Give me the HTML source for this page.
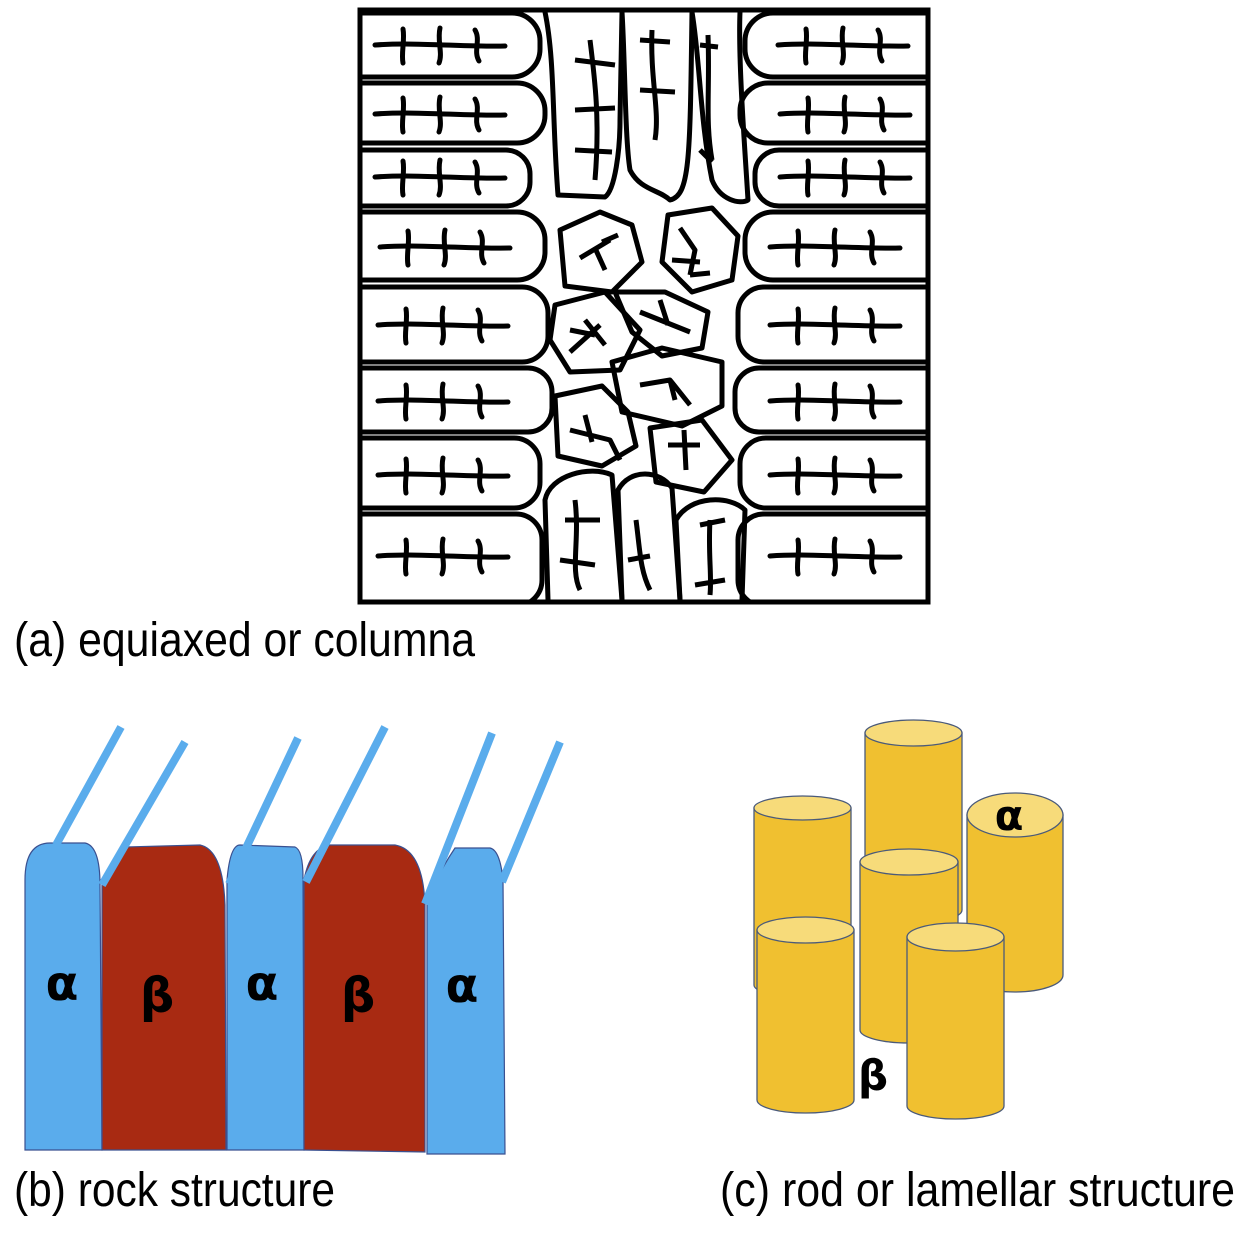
<!DOCTYPE html>
<html><head><meta charset="utf-8"><style>
html,body{margin:0;padding:0;background:#fff;}
svg{display:block;}
</style></head><body>
<svg width="1248" height="1242" viewBox="0 0 1248 1242" xmlns="http://www.w3.org/2000/svg">
<defs>
<clipPath id="fr"><rect x="360" y="10" width="568" height="592"/></clipPath>
<g id="fb" fill="none" stroke="#000" stroke-width="5" stroke-linecap="round">
<path d="M0,0 C40,-3 90,2 130,1"/>
<path d="M28,-16 C30,-5 26,8 28,18"/>
<path d="M65,-17 C62,-4 68,8 64,18"/>
<path d="M100,-15 C106,-5 98,6 104,16"/>
</g>
</defs>
<g clip-path="url(#fr)" fill="none" stroke="#000" stroke-width="5" stroke-linejoin="round">
<rect x="330" y="13" width="210" height="64" rx="28"/>
<rect x="330" y="83" width="215" height="60" rx="28"/>
<rect x="330" y="150" width="200" height="56" rx="24"/>
<rect x="330" y="212" width="215" height="68" rx="28"/>
<rect x="330" y="287" width="218" height="75" rx="26"/>
<rect x="330" y="368" width="222" height="64" rx="24"/>
<rect x="330" y="438" width="210" height="70" rx="26"/>
<rect x="330" y="514" width="212" height="92" rx="26"/>
<rect x="745" y="13" width="220" height="64" rx="28"/>
<rect x="740" y="83" width="225" height="60" rx="28"/>
<rect x="755" y="150" width="210" height="56" rx="24"/>
<rect x="745" y="212" width="220" height="68" rx="28"/>
<rect x="738" y="287" width="227" height="75" rx="26"/>
<rect x="735" y="368" width="230" height="64" rx="24"/>
<rect x="740" y="438" width="225" height="70" rx="26"/>
<rect x="738" y="514" width="227" height="92" rx="26"/>
<path d="M545,12 C555,60 552,120 558,195 L605,197 C615,190 620,150 620,120 L622,12"/>
<path d="M622,12 C625,60 625,140 630,170 C640,190 660,190 670,200 C690,195 690,160 692,12"/>
<path d="M692,12 C700,60 700,120 712,180 C720,200 740,205 748,200 C745,150 738,60 740,12"/>
<path d="M560,230 L600,212 L632,225 L642,262 L612,292 L565,286 Z"/>
<path d="M668,215 L712,208 L738,236 L732,280 L692,292 L662,262 Z"/>
<path d="M555,305 L605,292 L640,330 L620,370 L570,372 L550,340 Z"/>
<path d="M615,292 L665,292 L708,312 L702,348 L662,356 L632,332 Z"/>
<path d="M612,362 L662,348 L722,362 L722,406 L682,426 L622,412 Z"/>
<path d="M555,396 L602,386 L628,412 L636,446 L602,466 L558,456 Z"/>
<path d="M650,428 L702,420 L732,460 L704,492 L656,482 Z"/>
<path d="M548,600 L545,500 C550,475 590,465 612,475 L622,600"/>
<path d="M622,600 L618,490 C630,468 660,470 672,488 L680,600"/>
<path d="M680,600 L676,520 C690,495 730,495 745,510 L742,600"/>
<path d="M575,60 L615,65 M590,40 C595,80 600,120 595,180 M575,110 L615,108 M575,150 L612,152"/>
<path d="M640,40 L670,42 M652,30 C650,80 660,110 655,140 M640,90 L675,92"/>
<path d="M700,45 L718,47 M708,35 C710,90 705,120 712,160 M700,150 L712,162"/>
<path d="M580,258 L610,240 M595,248 L605,270 M602,242 L618,235"/>
<path d="M680,228 L695,250 L690,275 M672,260 L700,262 M690,275 L710,273"/>
<path d="M570,352 L600,325 M585,320 L605,345 M570,330 L595,335"/>
<path d="M640,312 L690,332 M660,300 L668,325"/>
<path d="M640,385 L670,380 L690,405 M670,380 L675,400"/>
<path d="M570,430 L610,440 L620,460 M585,415 L592,442"/>
<path d="M668,445 L700,445 M684,430 L686,470"/>
<path d="M565,520 L600,520 M575,500 C580,540 570,570 580,590 M560,560 L595,565"/>
<path d="M636,520 C640,550 640,570 650,590 M628,560 L650,556"/>
<path d="M700,525 L725,520 M710,520 C708,555 712,575 710,595 M695,585 L725,580"/>
</g>
<g clip-path="url(#fr)">
<use href="#fb" x="375" y="45"/>
<use href="#fb" x="375" y="114"/>
<use href="#fb" x="375" y="177"/>
<use href="#fb" x="380" y="247"/>
<use href="#fb" x="378" y="325"/>
<use href="#fb" x="378" y="401"/>
<use href="#fb" x="378" y="475"/>
<use href="#fb" x="378" y="556"/>
<use href="#fb" x="778" y="45"/>
<use href="#fb" x="780" y="114"/>
<use href="#fb" x="780" y="177"/>
<use href="#fb" x="770" y="247"/>
<use href="#fb" x="770" y="325"/>
<use href="#fb" x="770" y="401"/>
<use href="#fb" x="770" y="475"/>
<use href="#fb" x="770" y="556"/>
</g>
<rect x="360" y="10" width="568" height="592" fill="none" stroke="#000" stroke-width="5"/>
<text x="14" y="656" font-family="Liberation Sans, sans-serif" font-size="48" textLength="461" lengthAdjust="spacingAndGlyphs">(a) equiaxed or columna</text>

<g stroke="#3A5090" stroke-width="1.2">
<path d="M25,1150 L25,880 Q25,843 50,843 L85,843 Q100,846 100,885 L102,1150 Z" fill="#5AACEC"/>
<path d="M102,1150 L102,885 Q115,860 125,847 L200,845 Q223,850 225,905 L226,1150 Z" fill="#A82A12"/>
<path d="M227,1150 L227,880 Q230,845 240,845 L295,847 Q303,850 303,878 L304,1150 Z" fill="#5AACEC"/>
<path d="M304,1150 L304,880 Q310,848 330,845 L395,845 Q423,850 425,905 L425,1152 Z" fill="#A82A12"/>
<path d="M427,1154 L427,900 Q440,870 455,848 L490,848 Q500,850 503,880 L505,1154 Z" fill="#5AACEC"/>
</g>
<g stroke="#5AACEC" stroke-width="8">
<line x1="121" y1="727" x2="56" y2="845"/>
<line x1="185" y1="742" x2="102" y2="885"/>
<line x1="298" y1="738" x2="229" y2="884"/>
<line x1="385" y1="727" x2="306" y2="882"/>
<line x1="492" y1="733" x2="425" y2="904"/>
<line x1="560" y1="742" x2="502" y2="882"/>
</g>
<g font-family="DejaVu Sans, sans-serif" font-weight="bold" font-size="48" text-anchor="middle">
<text x="62" y="1000">α</text>
<text x="157" y="1012">β</text>
<text x="262" y="1000">α</text>
<text x="358" y="1012">β</text>
<text x="462" y="1002">α</text>
</g>
<text x="14" y="1206" font-family="Liberation Sans, sans-serif" font-size="48" textLength="321" lengthAdjust="spacingAndGlyphs">(b) rock structure</text>

<g stroke="#4A5A7A" stroke-width="1.3">
<path d="M865,733 L865,910 A48.5,13 0 0 0 962,910 L962,733 Z" fill="#F0C030"/>
<ellipse cx="913.5" cy="733" rx="48.5" ry="13" fill="#F7DB7A"/>
<path d="M754,808 L754,985 A48.5,12 0 0 0 851,985 L851,808 Z" fill="#F0C030"/>
<ellipse cx="802.5" cy="808" rx="48.5" ry="12" fill="#F7DB7A"/>
<path d="M967,815 L967,975 A48,17 0 0 0 1063,975 L1063,815 Z" fill="#F0C030"/>
<ellipse cx="1015" cy="815" rx="48" ry="22" fill="#F7DB7A"/>
<path d="M860,862 L860,1030 A49,13 0 0 0 958,1030 L958,862 Z" fill="#F0C030"/>
<ellipse cx="909" cy="862" rx="49" ry="13" fill="#F7DB7A"/>
<path d="M757,930 L757,1100 A48.5,13 0 0 0 854,1100 L854,930 Z" fill="#F0C030"/>
<ellipse cx="805.5" cy="930" rx="48.5" ry="13" fill="#F7DB7A"/>
<path d="M907,937 L907,1106 A48.5,13 0 0 0 1004,1106 L1004,937 Z" fill="#F0C030"/>
<ellipse cx="955.5" cy="937" rx="48.5" ry="14" fill="#F7DB7A"/>
</g>
<g font-family="DejaVu Sans, sans-serif" font-weight="bold" font-size="42" text-anchor="middle">
<text x="1009" y="830">α</text>
<text x="873" y="1090">β</text>
</g>
<text x="720" y="1206" font-family="Liberation Sans, sans-serif" font-size="48" textLength="515" lengthAdjust="spacingAndGlyphs">(c) rod or lamellar structure</text>
</svg>
</body></html>
